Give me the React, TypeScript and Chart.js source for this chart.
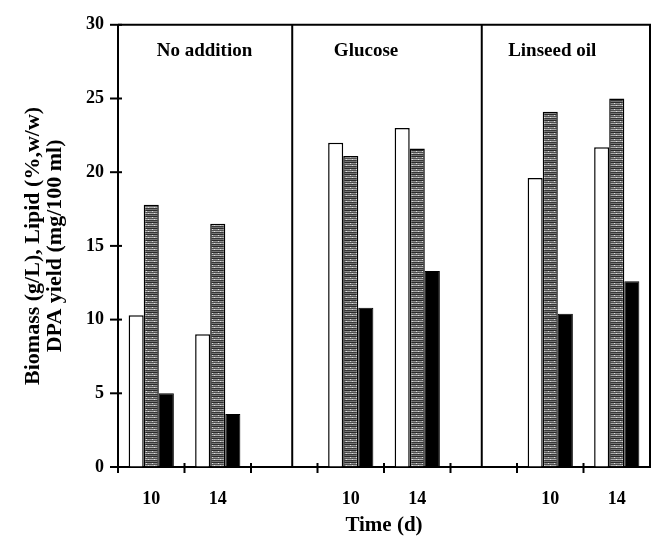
import React, { useEffect, useRef } from "react";
import { Chart, registerables } from "chart.js";

Chart.register(...registerables);

const timeLabels = ["10", "14", "", "10", "14", "", "10", "14"];
const biomass = [10.3, 9.0, null, 22.0, 23.0, null, 19.6, 21.7];
const lipid = [17.8, 16.5, null, 21.1, 21.6, null, 24.1, 25.0];
const dpaYield = [5.0, 3.6, null, 10.8, 13.3, null, 10.4, 12.6];
const yTicks = [0, 5, 10, 15, 20, 25, 30];
const panelNames = ["No addition", "Glucose", "Linseed oil"];
const panelNamePos = [0.8, 3.23, 6.03];
const panelSeparators = [2.12, 4.97];

const FONT = "'Liberation Serif', 'Times New Roman', serif";

function makeStripePattern(): CanvasPattern | string {
  const c = document.createElement("canvas");
  c.width = 6;
  c.height = 6;
  const g = c.getContext("2d");
  if (!g) return "#666";
  const rows = ["#2a2a2a", "#8c8c8c", "#4e4e4e", "#aaaaaa", "#363636", "#757575"];
  rows.forEach((col, i) => {
    g.fillStyle = col;
    g.fillRect(0, i, 6, 1);
  });
  g.fillStyle = "#dcdcdc";
  g.fillRect(2, 1, 1, 1);
  g.fillRect(4, 3, 1, 1);
  const p = g.createPattern(c, "repeat");
  return p || "#666";
}

const framePlugin = {
  id: "frame",
  afterDraw(chart: any) {
    const { ctx, chartArea } = chart;
    const xs = chart.scales.x;
    const ys = chart.scales.y;
    const { left, right, top, bottom } = chartArea;
    ctx.save();
    ctx.strokeStyle = "#000";
    ctx.lineWidth = 2;
    ctx.beginPath();
    ctx.moveTo(left, top);
    ctx.lineTo(right, top);
    ctx.lineTo(right, bottom);
    ctx.stroke();
    panelSeparators.forEach((v) => {
      const x = xs.getPixelForValue(v);
      ctx.beginPath();
      ctx.moveTo(x, top);
      ctx.lineTo(x, bottom);
      ctx.stroke();
    });
    yTicks.forEach((v) => {
      const y = ys.getPixelForValue(v);
      ctx.beginPath();
      ctx.moveTo(left - 8, y);
      ctx.lineTo(left + 4, y);
      ctx.stroke();
    });
    for (let i = 0; i <= timeLabels.length - 1; i++) {
      const x = xs.getPixelForValue(i - 0.5);
      ctx.beginPath();
      ctx.moveTo(x, i === 0 ? bottom : bottom - 4);
      ctx.lineTo(x, bottom + 6);
      ctx.stroke();
    }
    ctx.fillStyle = "#000";
    ctx.font = `bold 19px ${FONT}`;
    ctx.textAlign = "center";
    ctx.textBaseline = "middle";
    panelNames.forEach((name, i) => {
      ctx.fillText(name, xs.getPixelForValue(panelNamePos[i]), top + 26);
    });
    ctx.restore();
  },
};

export default function App() {
  const ref = useRef<HTMLCanvasElement | null>(null);

  useEffect(() => {
    if (!ref.current) return;
    const stripes = makeStripePattern();
    const chart = new Chart(ref.current, {
      type: "bar",
      data: {
        labels: timeLabels,
        datasets: [
          {
            label: "Biomass (g/L)",
            data: biomass,
            backgroundColor: "#ffffff",
            borderColor: "#000",
            borderWidth: 1.5,
          },
          {
            label: "Lipid (%,w/w)",
            data: lipid,
            backgroundColor: stripes as any,
            borderColor: "#000",
            borderWidth: 1.5,
          },
          {
            label: "DPA yield (mg/100 ml)",
            data: dpaYield,
            backgroundColor: "#000",
            borderColor: "#000",
            borderWidth: 1,
          },
        ],
      },
      options: {
        responsive: false,
        animation: false,
        layout: { padding: { left: 0, right: 7, top: 17, bottom: 0 } },
        datasets: {
          bar: { categoryPercentage: 0.68, barPercentage: 1.0 },
        },
        plugins: {
          legend: { display: false },
          tooltip: { enabled: false },
          title: { display: false },
        },
        scales: {
          x: {
            type: "category",
            offset: true,
            grid: { display: true, drawOnChartArea: false, drawTicks: false, color: "rgba(0,0,0,0)" },
            border: { display: true, color: "#000", width: 2 },
            ticks: {
              autoSkip: false,
              maxRotation: 0,
              minRotation: 0,
              padding: 22,
              color: "#000",
              font: { family: FONT, size: 18, weight: "bold" },
            },
            title: {
              display: true,
              text: "Time (d)",
              color: "#000",
              font: { family: FONT, size: 21, weight: "bold", lineHeight: 1 },
              padding: { top: 0, bottom: 3 },
            },
            afterFit(scale: any) {
              scale.height = 72;
            },
          },
          y: {
            min: 0,
            max: 30,
            grid: { display: true, drawOnChartArea: false, drawTicks: false, color: "rgba(0,0,0,0)" },
            border: { display: true, color: "#000", width: 2 },
            ticks: {
              stepSize: 5,
              padding: 14,
              color: "#000",
              font: { family: FONT, size: 18, weight: "bold" },
            },
            title: {
              display: true,
              text: ["Biomass (g/L), Lipid (%,w/w)", "DPA yield (mg/100 ml)"],
              color: "#000",
              font: { family: FONT, size: 22, weight: "bold", lineHeight: 1 },
              padding: { top: 22, bottom: 0 },
            },
            afterFit(scale: any) {
              scale.width = 118;
            },
          },
        },
      },
      plugins: [framePlugin],
    });
    return () => chart.destroy();
  }, []);

  return (
    <div style={{ position: "absolute", left: 0, top: 0, width: 657, height: 539, background: "#fff" }}>
      <canvas ref={ref} width={657} height={539} style={{ display: "block" }} />
    </div>
  );
}
